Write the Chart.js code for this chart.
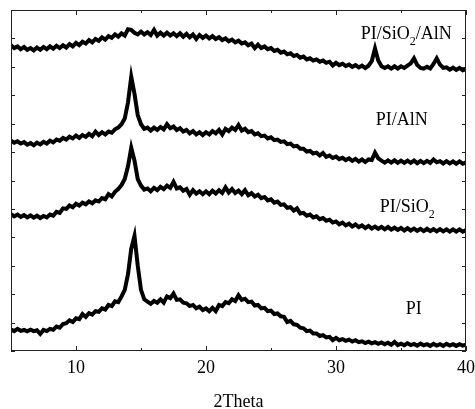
<!DOCTYPE html>
<html>
<head>
<meta charset="utf-8">
<script src="https://cdn.jsdelivr.net/npm/chart.js@4.4.1/dist/chart.umd.min.js"></script>
<style>
  html, body { margin: 0; padding: 0; background: #ffffff; }
  #wrap { width: 475px; height: 409px; position: relative; }
</style>
</head>
<body>
<div id="wrap"><canvas id="c" width="475" height="409"></canvas></div>
<script>
// 2Theta positions (degrees)
const twoTheta = [
 5.00,5.25,5.50,5.75,6.00,6.25,6.50,6.75,7.00,7.25,7.50,7.75,8.00,8.25,8.50,8.75,9.00,9.25,9.50,9.75,
 10.00,10.25,10.50,10.75,11.00,11.25,11.50,11.75,12.00,12.25,12.50,12.75,13.00,13.25,13.50,13.75,14.00,14.25,14.50,14.75,
 15.00,15.25,15.50,15.75,16.00,16.25,16.50,16.75,17.00,17.25,17.50,17.75,18.00,18.25,18.50,18.75,19.00,19.25,19.50,19.75,
 20.00,20.25,20.50,20.75,21.00,21.25,21.50,21.75,22.00,22.25,22.50,22.75,23.00,23.25,23.50,23.75,24.00,24.25,24.50,24.75,
 25.00,25.25,25.50,25.75,26.00,26.25,26.50,26.75,27.00,27.25,27.50,27.75,28.00,28.25,28.50,28.75,29.00,29.25,29.50,29.75,
 30.00,30.25,30.50,30.75,31.00,31.25,31.50,31.75,32.00,32.25,32.50,32.75,33.00,33.25,33.50,33.75,34.00,34.25,34.50,34.75,
 35.00,35.25,35.50,35.75,36.00,36.25,36.50,36.75,37.00,37.25,37.50,37.75,38.00,38.25,38.50,38.75,39.00,39.25,39.50,39.75,
 40.00
];

// PI (bottom trace, offset intensity)
const seriesPI = [
 0.76,0.70,0.78,0.71,0.74,0.69,0.75,0.70,0.73,0.60,0.74,0.70,0.78,0.75,0.86,0.82,0.95,0.98,1.08,1.02,
 1.15,1.12,1.30,1.20,1.33,1.28,1.40,1.38,1.50,1.46,1.62,1.58,1.75,1.72,1.92,2.15,2.70,3.60,4.05,3.00,
 2.15,1.82,1.74,1.66,1.76,1.70,1.82,1.70,1.92,1.86,2.02,1.80,1.82,1.70,1.68,1.58,1.62,1.50,1.56,1.44,
 1.50,1.40,1.52,1.40,1.62,1.58,1.72,1.68,1.82,1.76,1.96,1.80,1.84,1.72,1.74,1.60,1.62,1.50,1.52,1.40,
 1.42,1.30,1.32,1.22,1.20,1.02,1.06,0.94,0.92,0.82,0.80,0.70,0.72,0.62,0.62,0.53,0.56,0.48,0.50,0.38,
 0.46,0.38,0.42,0.36,0.40,0.33,0.38,0.31,0.34,0.28,0.33,0.27,0.31,0.25,0.30,0.24,0.29,0.22,0.32,0.21,
 0.26,0.20,0.27,0.21,0.25,0.19,0.26,0.20,0.24,0.18,0.25,0.19,0.24,0.18,0.25,0.19,0.24,0.18,0.24,0.19,
 0.22
];

// PI/SiO2
const seriesPISiO2 = [
 4.82,4.74,4.80,4.72,4.78,4.70,4.77,4.69,4.76,4.68,4.75,4.70,4.80,4.76,4.90,4.86,5.02,5.00,5.12,5.06,
 5.18,5.12,5.22,5.16,5.26,5.20,5.30,5.26,5.38,5.34,5.52,5.44,5.60,5.70,5.84,6.05,6.50,7.15,6.70,6.05,
 5.82,5.68,5.72,5.62,5.74,5.66,5.78,5.70,5.82,5.74,5.95,5.72,5.76,5.64,5.70,5.50,5.66,5.54,5.62,5.52,
 5.62,5.52,5.64,5.54,5.66,5.56,5.76,5.58,5.70,5.56,5.64,5.52,5.66,5.48,5.56,5.44,5.50,5.38,5.42,5.30,
 5.34,5.22,5.26,5.14,5.16,5.04,5.06,4.94,5.02,4.84,4.86,4.76,4.80,4.70,4.74,4.64,4.68,4.58,4.62,4.52,
 4.56,4.46,4.52,4.42,4.48,4.38,4.45,4.36,4.42,4.33,4.40,4.31,4.38,4.30,4.37,4.28,4.36,4.27,4.34,4.26,
 4.33,4.24,4.32,4.24,4.31,4.23,4.30,4.22,4.30,4.22,4.29,4.21,4.29,4.21,4.28,4.20,4.28,4.20,4.28,4.20,
 4.26
];

// PI/AlN
const seriesPIAlN = [
 7.40,7.33,7.38,7.30,7.35,7.26,7.32,7.24,7.33,7.27,7.36,7.30,7.40,7.34,7.44,7.40,7.50,7.44,7.54,7.48,
 7.58,7.50,7.60,7.54,7.64,7.56,7.72,7.60,7.70,7.62,7.72,7.68,7.80,7.86,7.98,8.18,8.75,9.65,9.05,8.30,
 7.98,7.82,7.86,7.76,7.86,7.78,7.88,7.80,7.98,7.84,7.90,7.78,7.84,7.72,7.78,7.66,7.74,7.62,7.70,7.60,
 7.70,7.62,7.74,7.66,7.78,7.62,7.82,7.74,7.86,7.78,7.95,7.76,7.82,7.70,7.74,7.62,7.66,7.56,7.58,7.48,
 7.52,7.42,7.44,7.36,7.38,7.28,7.30,7.20,7.22,7.12,7.12,7.02,7.04,6.95,6.98,6.88,6.97,6.83,6.88,6.79,
 6.84,6.75,6.80,6.72,6.78,6.69,6.76,6.67,6.74,6.65,6.74,6.72,6.98,6.78,6.70,6.63,6.71,6.63,6.71,6.62,
 6.70,6.62,6.70,6.62,6.70,6.61,6.69,6.61,6.69,6.62,6.74,6.64,6.68,6.60,6.68,6.60,6.67,6.59,6.67,6.59,
 6.64
];

// PI/SiO2/AlN (top trace)
const seriesPISiO2AlN = [
 10.76,10.66,10.72,10.62,10.70,10.60,10.66,10.58,10.68,10.60,10.70,10.62,10.72,10.64,10.74,10.66,10.76,10.68,10.80,10.72,
 10.84,10.76,10.88,10.82,10.94,10.86,10.98,10.92,11.04,10.96,11.08,11.02,11.14,11.06,11.18,11.10,11.32,11.30,11.20,11.14,
 11.24,11.14,11.22,11.12,11.30,11.10,11.20,11.10,11.20,11.10,11.18,11.08,11.18,11.06,11.16,11.04,11.14,10.98,11.12,11.02,
 11.10,11.00,11.08,10.98,11.04,10.94,11.00,10.90,10.96,10.86,10.92,10.82,10.86,10.76,10.82,10.66,10.78,10.66,10.72,10.62,
 10.66,10.56,10.60,10.50,10.54,10.44,10.48,10.38,10.42,10.32,10.36,10.26,10.30,10.22,10.26,10.18,10.22,10.14,10.18,10.05,
 10.14,10.06,10.11,10.03,10.08,10.00,10.06,9.98,10.04,9.96,10.04,10.20,10.65,10.22,10.02,9.96,10.02,9.94,10.02,9.94,
 10.02,9.96,10.04,10.12,10.30,10.06,9.96,9.94,10.00,9.94,10.10,10.30,10.08,9.96,9.98,9.90,9.97,9.89,9.96,9.88,
 9.92
];

const xTicks = [5, 10, 15, 20, 25, 30, 35, 40];
const xTickLabels = ['', '10', '', '20', '', '30', '', '40'];
const yTicks = [0, 1, 2, 3, 4, 5, 6, 7, 8, 9, 10, 11, 12];
const xTitle = '2Theta';

// Trace labels: [text before subscript, subscript, text after, x (2Theta), y (intensity baseline)]
const traceLabels = [
  ['PI/SiO', '2', '/AlN', 31.9, 10.98],
  ['PI/AlN', '', '', 33.05, 7.94],
  ['PI/SiO', '2', '', 33.36, 4.9],
  ['PI', '', '', 35.37, 1.31]
];

const FONT = '"Liberation Serif", "Times New Roman", serif';

function toPts(ys) { return ys.map((y, i) => ({ x: twoTheta[i], y: y })); }

const decor = {
  id: 'decor',
  afterDatasetsDraw(chart) {
    const ctx = chart.ctx;
    const a = chart.chartArea;
    const xs = chart.scales.x, ys = chart.scales.y;
    ctx.save();
    ctx.strokeStyle = '#222';
    ctx.lineWidth = 1;
    ctx.strokeRect(a.left + 0.5, a.top + 0.5, a.right - a.left - 1, a.bottom - a.top - 1);
    ctx.beginPath();
    xTicks.forEach((v, i) => {
      const px = Math.round(xs.getPixelForValue(v)) + 0.5;
      const len = xTickLabels[i] ? 5 : 3;
      ctx.moveTo(px, a.bottom); ctx.lineTo(px, a.bottom - len);
      ctx.moveTo(px, a.top); ctx.lineTo(px, a.top + len);
    });
    yTicks.forEach((v) => {
      const py = Math.round(ys.getPixelForValue(v)) + 0.5;
      ctx.moveTo(a.left, py); ctx.lineTo(a.left + 4, py);
      ctx.moveTo(a.right, py); ctx.lineTo(a.right - 4, py);
    });
    ctx.stroke();
    ctx.fillStyle = '#000';
    ctx.font = '18px ' + FONT;
    ctx.textAlign = 'center';
    ctx.textBaseline = 'alphabetic';
    xTicks.forEach((v, i) => {
      if (xTickLabels[i]) ctx.fillText(xTickLabels[i], xs.getPixelForValue(v), a.bottom + 22);
    });
    ctx.fillText(xTitle, (a.left + a.right) / 2, a.bottom + 56);
    ctx.textAlign = 'left';
    traceLabels.forEach(([t1, sub, t2, xv, yv]) => {
      let px = xs.getPixelForValue(xv);
      const py = ys.getPixelForValue(yv);
      ctx.font = '18px ' + FONT;
      ctx.fillText(t1, px, py);
      px += ctx.measureText(t1).width;
      if (sub) {
        ctx.font = '12px ' + FONT;
        ctx.fillText(sub, px, py + 6);
        px += ctx.measureText(sub).width;
      }
      if (t2) {
        ctx.font = '18px ' + FONT;
        ctx.fillText(t2, px, py);
      }
    });
    ctx.restore();
  }
};

const mk = (label, ys) => ({
  label: label,
  data: toPts(ys),
  borderColor: '#000',
  backgroundColor: '#000',
  borderWidth: 4,
  borderJoinStyle: 'miter',
  pointRadius: 0,
  tension: 0,
  fill: false
});

new Chart(document.getElementById('c'), {
  type: 'line',
  data: {
    datasets: [
      mk('PI', seriesPI),
      mk('PI/SiO2', seriesPISiO2),
      mk('PI/AlN', seriesPIAlN),
      mk('PI/SiO2/AlN', seriesPISiO2AlN)
    ]
  },
  options: {
    responsive: false,
    animation: false,
    layout: { padding: { left: 11, top: 10, right: 9, bottom: 58 } },
    plugins: { legend: { display: false }, tooltip: { enabled: false } },
    scales: {
      x: { type: 'linear', min: 5, max: 40, display: false },
      y: { type: 'linear', min: 0, max: 12, display: false }
    }
  },
  plugins: [decor]
});
</script>
</body>
</html>
